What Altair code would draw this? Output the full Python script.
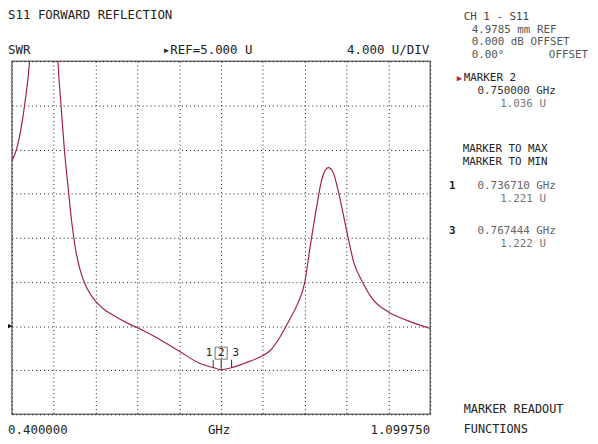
import altair as alt
import pandas as pd

# ---- data ----
F_START, F_STOP = 0.400000, 1.099750
V_MIN, V_MAX = -3.0, 29.0   # REF 5.000 U at 2 div from bottom, 4.000 U/DIV, 8 div

branch1_f = [0.4000, 0.4082, 0.4213, 0.4295, 0.4330]
branch1_v = [19.97, 21.13, 25.07, 29.0, 32.0]

branch2_f = [0.4740, 0.4770, 0.4820, 0.4875, 0.4945, 0.5000, 0.5065, 0.5147, 0.5262,
             0.5409, 0.5573, 0.5737, 0.5983, 0.6229, 0.6475, 0.6802, 0.7130, 0.7376,
             0.7507, 0.7671, 0.7900, 0.8113, 0.8326, 0.8490, 0.8654, 0.8769, 0.8900,
             0.8982, 0.9097, 0.9179, 0.9293, 0.9375, 0.9457, 0.9539, 0.9621, 0.9719,
             0.9867, 1.0031, 1.0293, 1.0621, 1.09975]
branch2_v = [33.0, 29.0, 25.07, 21.13, 17.29, 14.43, 11.93, 9.96, 8.35,
             7.19, 6.39, 5.85, 5.13, 4.51, 3.79, 2.72, 1.65, 1.22,
             1.04, 1.22, 1.65, 2.10, 2.81, 4.06, 5.67, 6.90, 8.98,
             11.93, 15.77, 18.18, 19.35, 18.90, 17.29, 15.23, 13.09, 10.77,
             8.98, 7.46, 6.30, 5.49, 4.78]

marker_f = [0.736710, 0.750000, 0.767444]
marker_v = [1.221, 1.036, 1.222]
marker_id = ["1", "2", "3"]
marker_label_v = 2.55
marker_line_top = 1.95

x_grid = [F_START + k * (F_STOP - F_START) / 10 for k in range(11)]
y_grid = [V_MIN + k * 4 for k in range(9)]

trace = pd.DataFrame({
    "f": branch1_f + branch2_f,
    "v": branch1_v + branch2_v,
    "branch": ["a"] * len(branch1_f) + ["b"] * len(branch2_f),
})
markers = pd.DataFrame({"f": marker_f, "v": marker_v, "id": marker_id,
                        "lv": [marker_label_v] * 3, "top": [marker_line_top] * 3})

FONT = "DejaVu Sans Mono"
W, H = 424, 358

xs = alt.Scale(domain=[F_START, F_STOP], nice=False, zero=False)
ys = alt.Scale(domain=[V_MIN, V_MAX], nice=False, zero=False)

X = alt.X("f:Q", scale=xs,
          axis=alt.Axis(values=x_grid, grid=True, gridDash=[1, 3], gridColor="#000",
                        gridOpacity=0.9, labels=False, ticks=False, domain=False, title=None))
Y = alt.Y("v:Q", scale=ys,
          axis=alt.Axis(values=y_grid, grid=True, gridDash=[1, 3], gridColor="#000",
                        gridOpacity=0.9, labels=False, ticks=False, domain=False, title=None))

line = alt.Chart(trace).mark_line(color="#a3223f", strokeWidth=1.2, clip=True,
                                  interpolate="monotone").encode(x=X, y=Y, detail="branch:N")

mk = alt.Chart(markers)
mk_rules = mk.mark_rule(color="#333", strokeWidth=1).encode(
    x=alt.X("f:Q", scale=xs), y=alt.Y("v:Q", scale=ys), y2="top:Q")
box = mk.transform_filter("datum.id == '2'").mark_point(
    shape="square", size=150, filled=False, color="#333", strokeWidth=1).encode(
    x=alt.X("f:Q", scale=xs), y=alt.Y("lv:Q", scale=ys))
lab2 = mk.transform_filter("datum.id == '2'").mark_text(
    font=FONT, fontSize=11, color="#222", baseline="middle").encode(
    x=alt.X("f:Q", scale=xs), y=alt.Y("lv:Q", scale=ys), text="id:N")
lab1 = mk.transform_filter("datum.id == '1'").mark_text(
    font=FONT, fontSize=11, color="#222", baseline="middle", align="right", dx=-1).encode(
    x=alt.X("f:Q", scale=xs), y=alt.Y("lv:Q", scale=ys), text="id:N")
lab3 = mk.transform_filter("datum.id == '3'").mark_text(
    font=FONT, fontSize=11, color="#222", baseline="middle", align="left", dx=1).encode(
    x=alt.X("f:Q", scale=xs), y=alt.Y("lv:Q", scale=ys), text="id:N")

ref_tri = alt.Chart(alt.Data(values=[{"v": 5.0}])).mark_text(
    text="▶", fontSize=7, color="#111", baseline="middle", align="center").encode(
    x=alt.value(-2), y=alt.Y("v:Q", scale=ys))


def txt(s, x, y, align="left", color="#333", weight="normal", size=11):
    return alt.Chart(alt.Data(values=[{}])).mark_text(
        text=s, font=FONT, fontSize=size, color=color, fontWeight=weight,
        align=align, baseline="middle").encode(x=alt.value(x), y=alt.value(y))


texts = [
    txt("S11 FORWARD REFLECTION", -4, -47, color="#222", size=12.6),
    txt("SWR", -4, -11, color="#222", size=12.6),
    txt("▸REF=5.000 U", 153, -11, color="#222", size=12.6),
    txt("4.000 U/DIV", 423, -11, align="right", color="#222", size=12.6),
    txt("CH 1 - S11", 458, -45, color="#444"),
    txt("4.9785 mm REF", 466, -32, color="#555"),
    txt("0.000 dB OFFSET", 466, -19, color="#555"),
    txt("0.00°", 466, -6, color="#555"),
    txt("OFFSET", 584, -6, align="right", color="#555"),
    txt("▶", 451, 17, color="#c0203c", size=9),
    txt("MARKER 2", 458, 17, color="#222"),
    txt("0.750000 GHz", 472, 30, color="#333"),
    txt("1.036 U", 495, 43, color="#777"),
    txt("MARKER TO MAX", 457, 89, color="#222"),
    txt("MARKER TO MIN", 457, 102, color="#222"),
    txt("1", 443, 127, color="#222", weight="bold"),
    txt("0.736710 GHz", 472, 127, color="#666"),
    txt("1.221 U", 495, 140, color="#777"),
    txt("3", 443, 172, color="#222", weight="bold"),
    txt("0.767444 GHz", 472, 172, color="#666"),
    txt("1.222 U", 495, 185, color="#777"),
    txt("0.400000", -4, 374, color="#222", size=12.6),
    txt("GHz", 210, 374, align="center", color="#222", size=12.6),
    txt("1.099750", 424, 374, align="right", color="#222", size=12.6),
    txt("MARKER READOUT", 458, 353, color="#222", size=12),
    txt("FUNCTIONS", 458, 373, color="#222", size=12),
]

chart = alt.layer(line, mk_rules, box, lab1, lab2, lab3, ref_tri, *texts).properties(
    width=W, height=H,
    padding={"left": 4, "top": 51, "right": 162, "bottom": 19},
    autosize=alt.AutoSizeParams(type="none"),
    background="white",
).configure_view(stroke="#777", strokeWidth=1.5)

chart.save("out.html", embed_options={"renderer": "svg", "actions": False})
